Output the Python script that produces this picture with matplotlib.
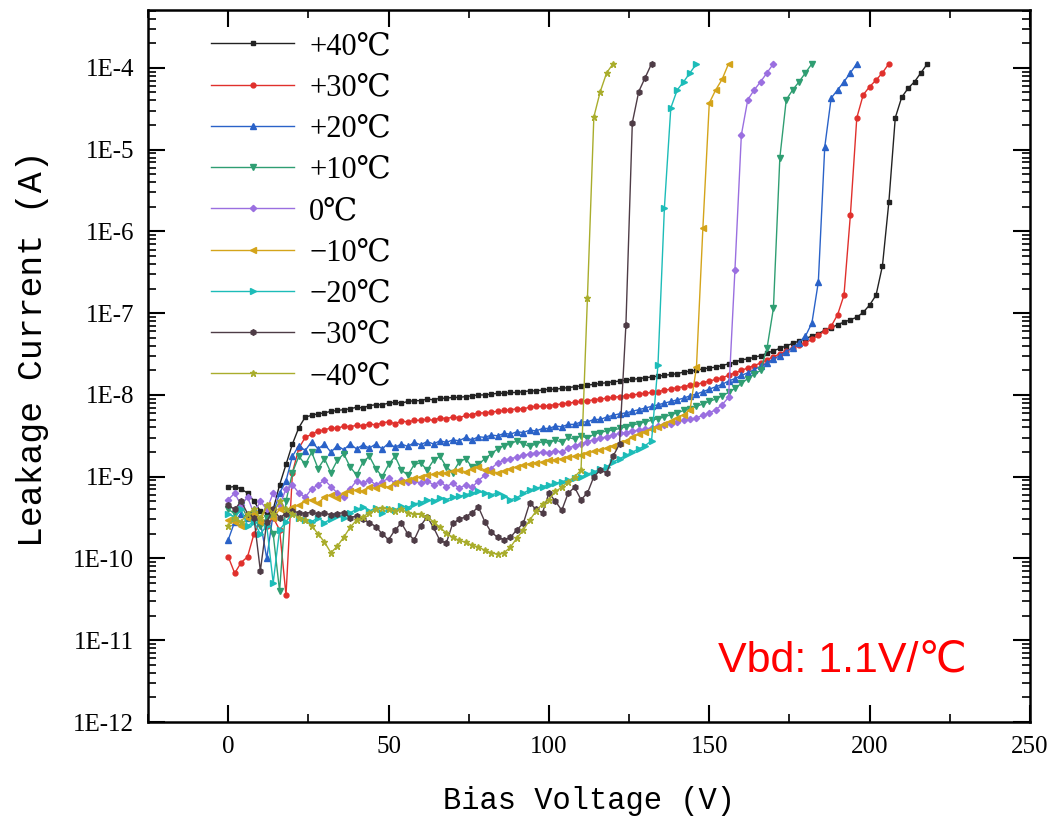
import numpy as np
import matplotlib
matplotlib.use('Agg')
import matplotlib.pyplot as plt
from matplotlib.ticker import MultipleLocator, LogLocator, FuncFormatter, NullFormatter

plt.rcParams['font.family'] = ['Liberation Serif', 'DejaVu Serif']

# bias sweep: 0 V upwards in 2 V steps
V_STEP = 2.0

labels = ['+40℃', '+30℃', '+20℃', '+10℃', '0℃', '−10℃', '−20℃', '−30℃', '−40℃']

# log10 of leakage current (A), one value per step, rows of 10 = 20 V
log_p40 = [
    -9.13, -9.12, -9.15, -9.20, -9.30, -9.42, -9.45, -9.40, -9.10, -8.85,
    -8.60, -8.40, -8.27, -8.25, -8.23, -8.22, -8.20, -8.19, -8.18, -8.17,
    -8.15, -8.16, -8.13, -8.12, -8.12, -8.10, -8.09, -8.10, -8.08, -8.07,
    -8.07, -8.05, -8.06, -8.04, -8.04, -8.03, -8.03, -8.02, -8.01, -8.00,
    -8.00, -7.99, -7.98, -7.98, -7.97, -7.97, -7.96, -7.95, -7.95, -7.94,
    -7.93, -7.93, -7.92, -7.91, -7.90, -7.89, -7.88, -7.87, -7.86, -7.85,
    -7.84, -7.83, -7.82, -7.81, -7.80, -7.79, -7.78, -7.77, -7.76, -7.75,
    -7.74, -7.72, -7.71, -7.70, -7.68, -7.67, -7.66, -7.64, -7.62, -7.60,
    -7.57, -7.56, -7.54, -7.52, -7.49, -7.46, -7.43, -7.40, -7.37, -7.34,
    -7.31, -7.28, -7.25, -7.21, -7.18, -7.14, -7.11, -7.08, -7.05, -6.99,
    -6.90, -6.78, -6.42, -5.64, -4.61, -4.36, -4.25, -4.17, -4.06, -3.95,
]
log_p30 = [
    -9.98, -10.18, -10.05, -9.98, -9.70, -9.55, -9.60, -9.50, -9.65, -10.45,
    -8.95, -8.65, -8.52, -8.48, -8.44, -8.43, -8.40, -8.41, -8.38, -8.39,
    -8.37, -8.38, -8.35, -8.37, -8.34, -8.33, -8.35, -8.32, -8.33, -8.31,
    -8.31, -8.30, -8.31, -8.28, -8.29, -8.27, -8.28, -8.25, -8.24, -8.22,
    -8.22, -8.21, -8.20, -8.19, -8.18, -8.17, -8.17, -8.15, -8.14, -8.14,
    -8.13, -8.12, -8.11, -8.10, -8.09, -8.08, -8.07, -8.06, -8.05, -8.04,
    -8.03, -8.02, -8.01, -8.00, -7.99, -7.98, -7.97, -7.96, -7.94, -7.93,
    -7.91, -7.90, -7.88, -7.87, -7.85, -7.83, -7.81, -7.79, -7.76, -7.73,
    -7.70, -7.67, -7.64, -7.61, -7.57, -7.53, -7.50, -7.46, -7.43, -7.39,
    -7.36, -7.32, -7.27, -7.22, -7.16, -7.02, -6.78, -5.80, -4.61, -4.33,
    -4.23, -4.15, -4.06, -3.95,
]
log_p20 = [
    -9.77, -9.55, -9.45, -9.50, -9.40, -9.55, -10.00, -9.45, -9.20, -9.05,
    -8.75, -8.62, -8.68, -8.57, -8.66, -8.60, -8.70, -8.62, -8.67, -8.60,
    -8.66, -8.61, -8.65, -8.60, -8.66, -8.59, -8.64, -8.60, -8.63, -8.58,
    -8.61, -8.57, -8.60, -8.56, -8.58, -8.55, -8.56, -8.52, -8.55, -8.51,
    -8.52, -8.49, -8.50, -8.47, -8.48, -8.45, -8.46, -8.43, -8.44, -8.41,
    -8.41, -8.38, -8.39, -8.36, -8.36, -8.33, -8.33, -8.30, -8.30, -8.27,
    -8.25, -8.23, -8.22, -8.20, -8.18, -8.16, -8.14, -8.12, -8.10, -8.08,
    -8.06, -8.04, -8.01, -7.99, -7.96, -7.93, -7.90, -7.87, -7.83, -7.80,
    -7.76, -7.73, -7.69, -7.65, -7.61, -7.56, -7.52, -7.47, -7.42, -7.36,
    -7.28, -7.12, -6.62, -4.97, -4.37, -4.27, -4.17, -4.06, -3.95,
]
log_p10 = [
    -9.40, -9.45, -9.35, -9.50, -9.45, -9.60, -9.50, -9.70, -10.40, -9.30,
    -8.95, -8.75, -8.85, -8.70, -8.90, -8.78, -8.95, -8.80, -8.72, -8.88,
    -8.98, -8.82, -8.75, -8.90, -9.00, -8.85, -8.75, -8.92, -8.98, -8.85,
    -8.83, -8.92, -8.80, -8.75, -8.88, -8.95, -8.82, -8.78, -8.88, -8.85,
    -8.78, -8.72, -8.66, -8.62, -8.60, -8.56, -8.60, -8.63, -8.60, -8.57,
    -8.59, -8.55, -8.58, -8.52, -8.54, -8.50, -8.53, -8.48, -8.46, -8.44,
    -8.43, -8.41, -8.39, -8.37, -8.35, -8.33, -8.31, -8.29, -8.27, -8.24,
    -8.22, -8.19, -8.17, -8.14, -8.11, -8.08, -8.05, -8.01, -7.97, -7.92,
    -7.86, -7.80, -7.75, -7.70, -7.43, -6.94, -5.10, -4.39, -4.27, -4.17,
    -4.06, -3.95,
]
log_0 = [
    -9.28, -9.20, -9.35, -9.25, -9.45, -9.30, -9.40, -9.20, -9.35, -9.15,
    -9.10, -9.20, -9.25, -9.15, -9.10, -9.04, -9.12, -9.20, -9.25, -9.15,
    -9.05, -9.08, -9.04, -9.10, -9.06, -9.02, -9.08, -9.04, -9.06, -9.05,
    -9.08, -9.05, -9.10, -9.06, -9.12, -9.08, -9.14, -9.10, -9.13, -9.05,
    -8.98, -8.90, -8.83, -8.80, -8.78, -8.76, -8.74, -8.72, -8.71, -8.70,
    -8.71, -8.68, -8.70, -8.65, -8.62, -8.60, -8.57, -8.55, -8.53, -8.51,
    -8.49, -8.47, -8.46, -8.44, -8.43, -8.42, -8.40, -8.38, -8.37, -8.35,
    -8.33, -8.31, -8.30, -8.28, -8.25, -8.22, -8.18, -8.12, -8.03, -6.47,
    -4.82, -4.39, -4.27, -4.17, -4.06, -3.95,
]
log_m10 = [
    -9.53, -9.55, -9.60, -9.50, -9.45, -9.55, -9.35, -9.50, -9.40, -9.45,
    -9.37, -9.35, -9.30, -9.28, -9.32, -9.25, -9.22, -9.26, -9.20, -9.18,
    -9.16, -9.18, -9.13, -9.14, -9.10, -9.13, -9.08, -9.06, -9.04, -9.02,
    -9.00, -8.98, -8.97, -8.95, -8.96, -8.93, -8.92, -8.94, -8.90, -8.88,
    -8.92, -8.94, -8.95, -8.93, -8.90, -8.88, -8.86, -8.84, -8.83, -8.82,
    -8.80, -8.79, -8.78, -8.76, -8.75, -8.73, -8.71, -8.69, -8.67, -8.65,
    -8.62, -8.59, -8.56, -8.52, -8.48, -8.45, -8.42, -8.39, -8.36, -8.32,
    -8.28, -8.24, -8.18, -7.66, -5.96, -4.43, -4.27, -4.14, -3.95,
]
log_m20 = [
    -9.45, -9.50, -9.40, -9.60, -9.55, -9.70, -9.60, -10.30, -9.65, -9.55,
    -9.45, -9.50, -9.53, -9.55, -9.50, -9.56, -9.52, -9.48, -9.50, -9.44,
    -9.40, -9.37, -9.42, -9.38, -9.44, -9.40, -9.41, -9.36, -9.38, -9.33,
    -9.32, -9.28, -9.30, -9.26, -9.28, -9.25, -9.24, -9.22, -9.20, -9.18,
    -9.20, -9.22, -9.20, -9.24, -9.28, -9.26, -9.20, -9.16, -9.14, -9.12,
    -9.10, -9.08, -9.06, -9.04, -9.02, -9.00, -8.97, -8.94, -8.91, -8.88,
    -8.82, -8.78, -8.74, -8.70, -8.66, -8.62, -8.56, -7.63, -5.71, -4.49,
    -4.27, -4.17, -4.06, -3.95,
]
log_m30 = [
    -9.35, -9.40, -9.30, -9.45, -9.50, -10.15, -9.55, -9.40, -9.50, -9.45,
    -9.42, -9.44, -9.45, -9.43, -9.46, -9.44, -9.47, -9.45, -9.44, -9.50,
    -9.48, -9.52, -9.56, -9.61, -9.70, -9.77, -9.65, -9.57, -9.70, -9.77,
    -9.60, -9.49, -9.62, -9.78, -9.81, -9.57, -9.52, -9.49, -9.44, -9.37,
    -9.55, -9.68, -9.74, -9.77, -9.74, -9.65, -9.57, -9.32, -9.40, -9.44,
    -9.20, -9.30, -9.41, -9.20, -9.13, -9.28, -9.20, -9.00, -8.92, -8.95,
    -8.75, -8.60, -7.14, -4.67, -4.29, -4.12, -3.95,
]
log_m40 = [
    -9.60, -9.50, -9.55, -9.45, -9.40, -9.50, -9.35, -9.45, -9.30, -9.40,
    -9.45, -9.50, -9.53, -9.60, -9.70, -9.80, -9.93, -9.85, -9.74, -9.62,
    -9.53, -9.49, -9.44, -9.40, -9.38, -9.40, -9.42, -9.40, -9.44, -9.46,
    -9.46, -9.49, -9.55, -9.62, -9.69, -9.74, -9.78, -9.80, -9.84, -9.86,
    -9.90, -9.93, -9.95, -9.93, -9.86, -9.75, -9.65, -9.53, -9.42, -9.33,
    -9.28, -9.18, -9.13, -9.06, -9.00, -8.92, -6.81, -4.60, -4.29, -4.06,
    -3.95,
]

series = [log_p40, log_p30, log_p20, log_p10, log_0, log_m10, log_m20, log_m30, log_m40]
colors = ['#222222', '#e0302c', '#2a62c8', '#2f9e72', '#9a6fe0',
          '#d4a41a', '#1cbcb8', '#4e3c46', '#a9ad2c']
markers = ['s', 'o', '^', 'v', 'D', '<', '>', 'h', '*']
msizes = [3.5, 3.5, 4, 4, 3.2, 4, 4, 4, 5]

fig = plt.figure(figsize=(10.58, 8.19), dpi=100)
ax = fig.add_axes([0.140, 0.1184, 0.8335, 0.8694])

for logi, lab, c, m, ms in zip(series, labels, colors, markers, msizes):
    v = np.arange(len(logi)) * V_STEP
    ax.plot(v, 10.0 ** np.array(logi), color=c, marker=m, ms=ms,
            mec=c, mfc=c, lw=1.0, label=lab)

ax.set_yscale('log')
ax.set_xlim(-25, 250)
ax.set_ylim(1e-12, 5.1e-4)

ax.xaxis.set_major_locator(MultipleLocator(50))
ax.xaxis.set_minor_locator(MultipleLocator(25))
ax.yaxis.set_major_locator(LogLocator(base=10, numticks=20))
ax.yaxis.set_minor_locator(LogLocator(base=10, subs=np.arange(2, 10), numticks=20))
ax.yaxis.set_major_formatter(FuncFormatter(lambda y, p: '1E%d' % round(np.log10(y))))
ax.yaxis.set_minor_formatter(NullFormatter())

ax.tick_params(which='both', direction='in', top=True, right=True, labelsize=18)
ax.tick_params(which='major', length=12, width=1.5, pad=10)
ax.tick_params(which='minor', length=6, width=1.2)
for sp in ax.spines.values():
    sp.set_linewidth(1.8)

ax.set_xlabel('Bias Voltage (V)', fontsize=22, family='Liberation Mono', labelpad=20)
ax.set_ylabel('Leakage Current (A)', fontsize=25, family='Liberation Mono')
ax.yaxis.set_label_coords(-0.112, 0.525)

ax.legend(loc='upper left', bbox_to_anchor=(0.058, 0.986), frameon=False,
          fontsize=22, handlelength=2.7, handletextpad=0.5, labelspacing=0.40,
          borderaxespad=0)

fig.text(0.679, 0.194, 'Vbd: 1.1V/℃', color='#ff0000', fontsize=31,
         family=['Liberation Sans', 'DejaVu Sans'], va='center', ha='left')

fig.savefig('out.png', dpi=100)
